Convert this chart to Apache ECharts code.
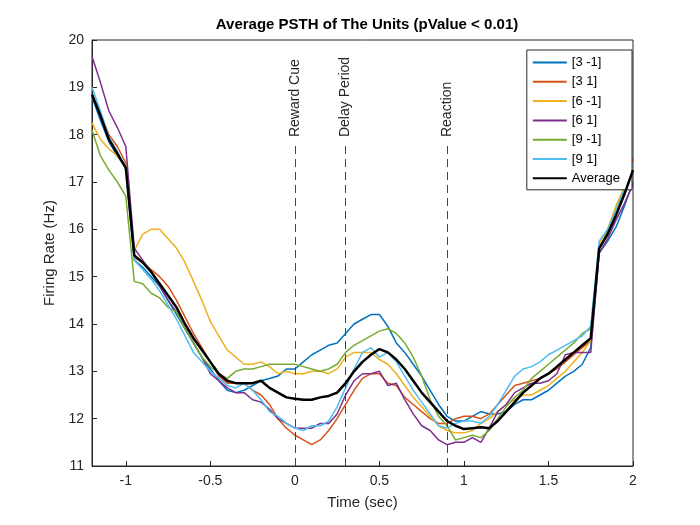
<!DOCTYPE html>
<html><head><meta charset="utf-8">
<script src="https://cdn.jsdelivr.net/npm/echarts@6/dist/echarts.min.js"></script>
<style>body{margin:0}#c{width:700px;height:525px}</style></head>
<body><div id="c"></div>
<script>
const times = [];
for (let i = 0; i < 65; i++) times.push(Math.round((-1.2 + i * 0.05) * 100) / 100);
const names = ['[3 -1]','[3 1]','[6 -1]','[6 1]','[9 -1]','[9 1]','Average'];
const colors = ['#0072BD','#D95319','#EDB120','#7E2F8E','#77AC30','#4DBEEE','#000000'];
const s31n = [18.8,18.3,17.85,17.55,17.3, 15.35,15.2,15.0,14.8,14.5, 14.2,13.9,13.6,13.3,13.05, 12.8,12.6,12.55,12.6,12.7, 12.8,12.85,12.9,13.05,13.05, 13.2,13.35,13.45,13.55,13.6, 13.8,14.0,14.1,14.2,14.2, 13.95,13.6,13.4,13.15,12.9, 12.6,12.3,12.05,11.95,11.95, 12.05,12.15,12.1,12.1,12.15, 12.3,12.4,12.4,12.5,12.6, 12.75,12.9,13.0,13.15,13.5, 15.5,15.75,16.05,16.5,17.0];
const s31p = [18.85,18.45,18.0,17.75,17.4, 15.4,15.3,15.15,15.0,14.8, 14.5,14.15,13.8,13.5,13.2, 12.9,12.75,12.75,12.75,12.6, 12.5,12.3,12.0,11.8,11.65, 11.55,11.45,11.55,11.75,12.0, 12.3,12.6,12.85,12.95,12.95, 12.75,12.7,12.45,12.3,12.15, 12.0,11.9,11.9,12.0,12.05, 12.05,12.0,12.1,12.3,12.5, 12.7,12.75,12.8,12.85,12.95, 13.05,13.2,13.35,13.5,13.65, 15.6,15.95,16.4,16.9,17.5];
const s61n = [18.25,17.9,17.7,17.55,17.35, 15.55,15.9,16.0,16.0,15.8, 15.6,15.3,14.9,14.5,14.05, 13.75,13.45,13.3,13.15,13.15, 13.2,13.1,12.95,13.0,12.95, 12.95,13.0,13.0,12.95,13.05, 13.3,13.4,13.4,13.4,13.25, 13.15,12.95,12.7,12.45,12.25, 12.05,11.85,11.75,11.7,11.7, 11.75,11.9,12.0,12.15,12.3, 12.4,12.5,12.5,12.6,12.7, 12.85,13.0,13.2,13.4,13.65, 15.7,16.0,16.5,16.9,17.3];
const s61p = [19.65,19.1,18.5,18.15,17.75, 15.6,15.35,15.1,14.8,14.5, 14.25,13.9,13.6,13.3,12.95, 12.8,12.65,12.55,12.55,12.4, 12.35,12.2,12.0,11.9,11.8, 11.8,11.8,11.9,11.9,12.1, 12.5,12.8,12.95,12.95,13.0, 12.7,12.75,12.4,12.1,11.85, 11.75,11.55,11.45,11.5,11.5, 11.6,11.5,11.8,12.15,12.3, 12.55,12.65,12.75,12.75,12.8, 12.95,13.35,13.4,13.4,13.4, 15.5,15.8,16.2,16.55,16.95];
const s91n = [18.1,17.55,17.25,17.0,16.7, 14.9,14.85,14.65,14.55,14.35, 14.25,13.9,13.6,13.3,13.1, 12.95,12.85,13.0,13.05,13.05, 13.1,13.15,13.15,13.15,13.15, 13.1,13.05,13.0,13.05,13.15, 13.4,13.55,13.65,13.75,13.85, 13.9,13.8,13.6,13.3,12.9, 12.4,12.05,11.85,11.55,11.6, 11.65,11.6,11.75,12.0,12.25, 12.45,12.6,12.85,13.0,13.15, 13.3,13.45,13.6,13.8,13.9, 15.6,15.95,16.35,16.85,17.35];
const s91p = [19.0,18.5,17.95,17.65,17.25, 15.35,15.15,14.95,14.7,14.4, 14.1,13.75,13.4,13.2,13.0, 12.85,12.7,12.65,12.75,12.6, 12.4,12.15,12.05,11.9,11.8, 11.75,11.85,11.85,11.95,12.25, 12.65,13.05,13.4,13.5,13.3, 13.4,13.2,12.9,12.6,12.35, 12.1,11.85,11.8,11.9,11.95, 11.95,11.9,12.05,12.3,12.6, 12.9,13.05,13.1,13.2,13.35, 13.45,13.55,13.65,13.75,13.95, 15.75,16.0,16.4,16.85,17.4];
const avg = [18.85,18.4,17.9,17.6,17.3, 15.45,15.3,15.1,14.85,14.6, 14.35,14.0,13.7,13.45,13.2, 12.95,12.8,12.75,12.75,12.75, 12.8,12.65,12.55,12.45,12.42, 12.4,12.4,12.45,12.48,12.55, 12.75,13.0,13.2,13.35,13.47, 13.4,13.25,13.05,12.8,12.55, 12.35,12.15,11.95,11.85,11.78, 11.8,11.82,11.8,11.95,12.15, 12.35,12.55,12.7,12.85,12.95, 13.1,13.25,13.4,13.55,13.7, 15.6,15.9,16.3,16.75,17.25];
const events = [[0,'Reward Cue'],[0.3,'Delay Period'],[0.9,'Reaction']];
const xTicks = [-1,-0.5,0,0.5,1,1.5,2];

const all = [s31n,s31p,s61n,s61p,s91n,s91p,avg];
const series = all.map((d,i)=>({
  name:names[i], type:'line', data:d.map((v,j)=>[times[j],v]), symbol:'none',
  lineStyle:{width:i===6?2.5:1.5,color:colors[i]}, itemStyle:{color:colors[i]}, z:i===6?5:2
}));
const ml = [];
events.forEach(e=>{
  ml.push([{coord:[e[0],11],lineStyle:{type:[8,5],color:'#444',width:1},label:{show:false}},{coord:[e[0],17.85]}]);
  ml.push([{coord:[e[0],17.95],lineStyle:{color:'rgba(0,0,0,0)',width:0},label:{show:true,formatter:e[1],position:'insideStart',distance:[0,0],fontSize:14,color:'#262626'}},{coord:[e[0],19.9]}]);
});
series[0].markLine = {symbol:'none',silent:true,data:ml};

echarts.init(document.getElementById('c')).setOption({
  animation:false,
  title:{text:'Average PSTH of The Units (pValue < 0.01)',left:362,top:12,textAlign:'center',textStyle:{fontSize:15,fontWeight:'bold',color:'#000',fontFamily:'Liberation Sans'}},
  textStyle:{fontFamily:'Liberation Sans'},
  grid:{left:92,right:67,top:40,bottom:59,show:true,borderColor:'#262626',borderWidth:1},
  legend:{orient:'vertical',right:68,top:50,data:names,itemWidth:34,itemHeight:2,itemGap:6.3,
    backgroundColor:'#fff',borderColor:'#262626',borderWidth:1,padding:[6,12,5,6],
    icon:'rect',textStyle:{fontSize:13,color:'#000'}},
  xAxis:{type:'value',min:-1.2,max:2,name:'Time (sec)',nameLocation:'middle',nameGap:29,
    nameTextStyle:{fontSize:15,color:'#262626'},
    axisLine:{onZero:false,lineStyle:{color:'#262626'}},
    axisTick:{inside:true,customValues:xTicks,length:5},
    axisLabel:{customValues:xTicks,fontSize:14,color:'#262626'},
    splitLine:{show:false}},
  yAxis:{type:'value',min:11,max:20,interval:1,name:'Firing Rate (Hz)',nameLocation:'middle',nameGap:32,
    nameTextStyle:{fontSize:15,color:'#262626'},
    axisLine:{show:true,onZero:false,lineStyle:{color:'#262626'}},
    axisTick:{show:true,inside:true,length:5},
    axisLabel:{fontSize:14,color:'#262626'},
    splitLine:{show:false}},
  series
});
</script></body></html>
